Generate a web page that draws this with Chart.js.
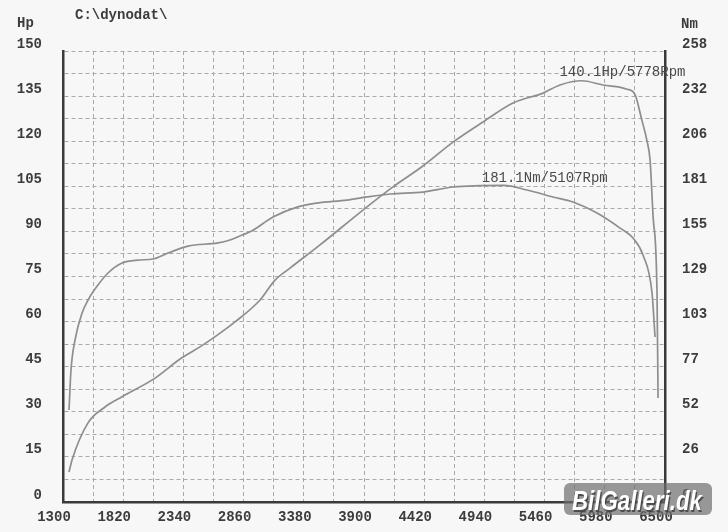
<!DOCTYPE html>
<html>
<head>
<meta charset="utf-8">
<script src="https://cdn.jsdelivr.net/npm/chart.js@4.4.1/dist/chart.umd.min.js"></script>
<style>
  html, body { margin: 0; padding: 0; background: #f7f7f7; }
  canvas { display: block; }
</style>
</head>
<body>
<canvas id="dynoChart" width="728" height="532"></canvas>
<script>
// power curve (Hp)
const powerRpm = [1352, 1378, 1516, 1663, 1810, 2095, 2320, 2483, 2596, 2786, 3002, 3131, 3261, 3520, 3891, 4150, 4400, 4669, 4928, 5187, 5446, 5593, 5778, 5965, 6172, 6241, 6300, 6345, 6371, 6397, 6431, 6440];
const powerHp = [10.0, 14.0, 26.3, 31.6, 35.0, 41.2, 47.8, 51.6, 54.5, 59.9, 67.2, 73.8, 77.8, 85.5, 97.1, 104.8, 111.5, 119.7, 126.4, 132.7, 136.0, 138.7, 140.1, 138.7, 137.3, 135.5, 127.0, 120.0, 113.7, 95.0, 69.5, 34.6];

// torque curve (Nm)
const torqueRpm = [1352, 1369, 1404, 1464, 1516, 1602, 1689, 1810, 1948, 2077, 2207, 2380, 2639, 2742, 2846, 2930, 3114, 3321, 3494, 3753, 3926, 4125, 4410, 4669, 5107, 5308, 5533, 5705, 5913, 6112, 6224, 6310, 6388, 6414];
const torqueNm = [52.6, 75.5, 92.7, 108.0, 115.5, 124.1, 131.0, 136.7, 138.4, 139.0, 142.4, 146.4, 148.2, 149.9, 152.7, 155.0, 163.0, 168.7, 171.0, 172.7, 174.5, 176.2, 177.3, 180.2, 181.1, 178.5, 174.5, 171.6, 165.3, 156.7, 151.0, 141.3, 119.5, 94.4];

// axis settings
const rpmMin = 1300, rpmMax = 6500, rpmStep = 260, rpmLabelStep = 520;
const hpMax = 150, hpStep = 7.5, hpLabelStep = 15;
const nmMax = 258, nmStep = 25.8;

// peak labels
const powerPeak = { rpm: 5778, value: 140.1, text: "140.1Hp/5778Rpm" };
const torquePeak = { rpm: 5107, value: 181.1, text: "181.1Nm/5107Rpm" };

const monoFont = "'Liberation Mono', 'DejaVu Sans Mono', monospace";
const lineColor = "#8e8e8e";
const axisColor = "#3a3a3a";
const gridColor = "#a9a9a9";

function toPoints(xs, ys) {
    return xs.map((x, i) => ({ x: x, y: ys[i] }));
}

const dynoPlugin = {
    id: "dyno",
    beforeDraw(chart) {
        const ctx = chart.ctx;
        ctx.save();
        ctx.fillStyle = "#f7f7f7";
        ctx.fillRect(0, 0, chart.width, chart.height);
        ctx.restore();
    },
    afterDraw(chart) {
        const ctx = chart.ctx;
        const x = chart.scales.x, y = chart.scales.y, y2 = chart.scales.y2;
        ctx.save();
        ctx.textBaseline = "middle";
        ctx.fillStyle = "#3c3c3c";
        ctx.font = "bold 14px " + monoFont;
        ctx.fillText("Hp", 17, 23);
        ctx.fillText("Nm", 681, 24);
        ctx.fillText("C:\\dynodat\\", 75, 15);

        // peak annotations
        ctx.font = "14px " + monoFont;
        ctx.fillStyle = "#4a4a4a";
        ctx.fillText(powerPeak.text, x.getPixelForValue(powerPeak.rpm) - 22, y.getPixelForValue(powerPeak.value) - 8);
        ctx.fillText(torquePeak.text, x.getPixelForValue(torquePeak.rpm) - 22, y2.getPixelForValue(torquePeak.value) - 7);

        // watermark
        ctx.fillStyle = "rgba(110,110,110,0.7)";
        ctx.beginPath();
        ctx.roundRect(564, 483, 148, 32, 6);
        ctx.fill();
        ctx.font = "italic bold 27px 'Liberation Sans Narrow', 'Liberation Sans', Arial, sans-serif";
        ctx.textBaseline = "alphabetic";
        const txt = "BilGalleri.dk";
        const sx = 130 / ctx.measureText(txt).width;
        ctx.translate(572, 510);
        ctx.scale(sx, 1);
        ctx.fillStyle = "rgba(60,60,60,0.8)";
        ctx.fillText(txt, 1.5, 1.5);
        ctx.fillStyle = "#ffffff";
        ctx.fillText(txt, 0, 0);
        ctx.restore();
    }
};

new Chart(document.getElementById("dynoChart").getContext("2d"), {
    type: "line",
    data: {
        datasets: [{
            label: "Hp",
            data: toPoints(powerRpm, powerHp),
            yAxisID: "y",
            borderColor: lineColor,
            borderWidth: 1.7,
            pointRadius: 0,
            fill: false,
            cubicInterpolationMode: "monotone"
        }, {
            label: "Nm",
            data: toPoints(torqueRpm, torqueNm),
            yAxisID: "y2",
            borderColor: lineColor,
            borderWidth: 1.7,
            pointRadius: 0,
            fill: false,
            cubicInterpolationMode: "monotone"
        }]
    },
    options: {
        responsive: false,
        animation: false,
        layout: { padding: { top: 51, left: 0, right: 0, bottom: 0 } },
        plugins: {
            legend: { display: false },
            tooltip: { enabled: false }
        },
        scales: {
            x: {
                type: "linear",
                min: rpmMin,
                max: rpmMax,
                afterFit(scale) { scale.height = 30; },
                grid: { color: gridColor, lineWidth: 1, drawTicks: false },
                border: { display: true, color: axisColor, width: 2.5, dash: [4, 3] },
                ticks: {
                    stepSize: rpmStep,
                    autoSkip: false,
                    maxRotation: 0,
                    padding: 7,
                    labelOffset: -9,
                    color: "#3c3c3c",
                    font: { family: monoFont, size: 14, weight: "bold" },
                    callback: v => ((v - rpmMin) % rpmLabelStep === 0 ? String(v) : "")
                }
            },
            y: {
                position: "left",
                min: 0,
                max: hpMax,
                afterFit(scale) { scale.width = 63; },
                grid: { color: gridColor, lineWidth: 1, drawTicks: false },
                border: { display: true, color: axisColor, width: 2.5, dash: [4, 3] },
                ticks: {
                    stepSize: hpStep,
                    autoSkip: false,
                    padding: 21,
                    labelOffset: -7,
                    color: "#3c3c3c",
                    font: { family: monoFont, size: 14, weight: "bold" },
                    callback: v => (Math.abs(v % hpLabelStep) < 1e-6 ? String(v) : "")
                }
            },
            y2: {
                position: "right",
                min: 0,
                max: nmMax,
                afterFit(scale) { scale.width = 63; },
                grid: { display: false, drawTicks: false },
                border: { display: true, color: axisColor, width: 2.5 },
                ticks: {
                    stepSize: nmStep,
                    autoSkip: false,
                    padding: 17,
                    labelOffset: -7,
                    color: "#3c3c3c",
                    font: { family: monoFont, size: 14, weight: "bold" },
                    callback: v => String(Math.round(v))
                }
            }
        }
    },
    plugins: [dynoPlugin]
});
</script>
</body>
</html>
